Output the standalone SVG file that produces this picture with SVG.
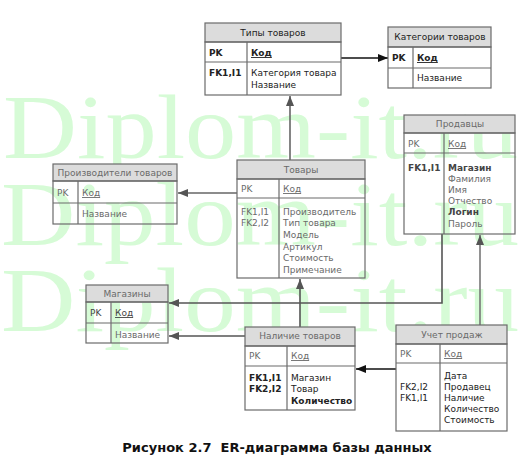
<svg xmlns="http://www.w3.org/2000/svg" width="525" height="460" viewBox="0 0 525 460">
<style>
.wm{font-family:"Liberation Serif","Times New Roman",serif;font-size:92px;fill:#d6fbd6}
.box{fill:none;stroke:#6b6b6b;stroke-width:1.2}
.hdr{fill:#dcdcdc;stroke:#6b6b6b;stroke-width:1.2}
.ln{stroke:#6b6b6b;stroke-width:1.2}
text{font-family:"DejaVu Sans",Verdana,sans-serif;font-size:9px}
.h{text-anchor:middle}
.u{text-decoration:underline}
.b{font-weight:bold}
.dk{fill:#222}
.gr{fill:#6a6a6a}
.cap{font-family:"DejaVu Sans",Verdana,sans-serif;font-size:13px;font-weight:bold;fill:#111;white-space:pre}
.c{fill:none;stroke-width:1.6}
</style>
<defs>
<marker id="ab" markerWidth="10" markerHeight="8" refX="10" refY="4" orient="auto" markerUnits="userSpaceOnUse"><path d="M0,0 L10,4 L0,8 Z" fill="#111"/></marker>
<marker id="ag" markerWidth="10" markerHeight="8" refX="10" refY="4" orient="auto" markerUnits="userSpaceOnUse"><path d="M0,0 L10,4 L0,8 Z" fill="#555"/></marker>
</defs>
<rect width="525" height="460" fill="#fff"/>
<g id="watermark">
<text class="wm" x="3" y="158" textLength="515" lengthAdjust="spacingAndGlyphs">Diplom-it.ru</text>
<text class="wm" x="1" y="245" textLength="518" lengthAdjust="spacingAndGlyphs">Diplom-it.ru</text>
<text class="wm" x="1" y="331" textLength="518" lengthAdjust="spacingAndGlyphs">Diplom-it.ru</text>
</g>
<g id="connectors">
<line class="c" x1="341" y1="58" x2="388" y2="58" stroke="#111" marker-end="url(#ab)"/>
<line class="c" x1="290" y1="160" x2="290" y2="96" stroke="#666" marker-end="url(#ag)"/>
<line class="c" x1="237" y1="193" x2="178" y2="193" stroke="#666" marker-end="url(#ag)"/>
<polyline class="c" points="442,234 442,303 169,303" stroke="#555" marker-end="url(#ag)"/>
<line class="c" x1="245" y1="336" x2="169" y2="336" stroke="#555" marker-end="url(#ag)"/>
<line class="c" x1="300" y1="327" x2="300" y2="279" stroke="#555" marker-end="url(#ag)"/>
<line class="c" x1="396" y1="369" x2="356" y2="369" stroke="#111" marker-end="url(#ab)"/>
<line class="c" x1="480" y1="325" x2="480" y2="235" stroke="#777" marker-end="url(#ag)"/>
</g>
<g id="tipy">
<rect class="hdr" x="205" y="23" width="136" height="19"/>
<rect class="box" x="205" y="42" width="136" height="53"/>
<line class="ln" x1="205" y1="62" x2="341" y2="62"/>
<line class="ln" x1="247" y1="42" x2="247" y2="95"/>
<text class="h dk" x="273" y="36">Типы товаров</text>
<text class="dk b" x="209" y="56">PK</text>
<text class="dk b u" x="251" y="56">Код</text>
<text class="dk b" x="209" y="76">FK1,I1</text>
<text class="dk" x="251" y="76">Категория товара</text>
<text class="dk" x="251" y="88">Название</text>
</g>
<g id="kategorii">
<rect class="hdr" x="388" y="27" width="103" height="20"/>
<rect class="box" x="388" y="47" width="103" height="41"/>
<line class="ln" x1="388" y1="68" x2="491" y2="68"/>
<line class="ln" x1="413" y1="47" x2="413" y2="88"/>
<text class="h dk" x="440" y="40">Категории товаров</text>
<text class="dk b" x="392" y="61">PK</text>
<text class="dk b u" x="417" y="61">Код</text>
<text class="dk" x="417" y="81">Название</text>
</g>
<g id="proizvoditeli">
<rect class="hdr" x="53" y="164" width="124" height="17"/>
<rect class="box" x="53" y="181" width="124" height="43"/>
<line class="ln" x1="53" y1="203" x2="177" y2="203"/>
<line class="ln" x1="78" y1="181" x2="78" y2="224"/>
<text class="h gr" x="115" y="176">Производители товаров</text>
<text class="gr" x="57" y="196">PK</text>
<text class="gr u" x="82" y="196">Код</text>
<text class="gr" x="82" y="217">Название</text>
</g>
<g id="tovary">
<rect class="hdr" x="237" y="160" width="128" height="19"/>
<rect class="box" x="237" y="179" width="128" height="99"/>
<line class="ln" x1="237" y1="198" x2="365" y2="198"/>
<line class="ln" x1="279" y1="179" x2="279" y2="278"/>
<text class="h gr" x="301" y="173">Товары</text>
<text class="gr" x="241" y="192">PK</text>
<text class="gr u" x="283" y="192">Код</text>
<text class="gr" x="241" y="215">FK1,I1</text>
<text class="gr" x="241" y="226">FK2,I2</text>
<text class="gr" x="283" y="215">Производитель</text>
<text class="gr" x="283" y="226">Тип товара</text>
<text class="gr" x="283" y="238">Модель</text>
<text class="gr" x="283" y="250">Артикул</text>
<text class="gr" x="283" y="261">Стоимость</text>
<text class="gr" x="283" y="273">Примечание</text>
</g>
<g id="prodavcy">
<rect class="hdr" x="404" y="115" width="111" height="18"/>
<rect class="box" x="404" y="133" width="111" height="101"/>
<line class="ln" x1="404" y1="153" x2="515" y2="153"/>
<line class="ln" x1="444" y1="133" x2="444" y2="234"/>
<text class="h gr" x="460" y="127">Продавцы</text>
<text class="gr" x="408" y="147">PK</text>
<text class="gr u" x="448" y="147">Код</text>
<text class="b" x="408" y="171" fill="#444">FK1,I1</text>
<text class="b" x="448" y="171" fill="#444">Магазин</text>
<text class="gr" x="448" y="182">Фамилия</text>
<text class="gr" x="448" y="193">Имя</text>
<text class="gr" x="448" y="204">Отчество</text>
<text class="b" x="448" y="215" fill="#444">Логин</text>
<text class="gr" x="448" y="227">Пароль</text>
</g>
<g id="magaziny">
<rect class="hdr" x="86" y="285" width="82" height="17"/>
<rect class="box" x="86" y="302" width="82" height="41"/>
<line class="ln" x1="86" y1="323" x2="168" y2="323"/>
<line class="ln" x1="111" y1="302" x2="111" y2="343"/>
<text class="h gr" x="127" y="297">Магазины</text>
<text x="90" y="316" fill="#444">PK</text>
<text class="u" x="115" y="316" fill="#444">Код</text>
<text class="gr" x="115" y="338">Название</text>
</g>
<g id="nalichie">
<rect class="hdr" x="245" y="327" width="110" height="19"/>
<rect class="box" x="245" y="346" width="110" height="64"/>
<line class="ln" x1="245" y1="366" x2="355" y2="366"/>
<line class="ln" x1="287" y1="346" x2="287" y2="410"/>
<text class="h gr" x="300" y="339">Наличие товаров</text>
<text class="gr" x="249" y="359">PK</text>
<text class="gr u" x="291" y="359">Код</text>
<text class="dk b" x="249" y="381">FK1,I1</text>
<text class="dk b" x="249" y="392">FK2,I2</text>
<text class="dk" x="291" y="381">Магазин</text>
<text class="dk" x="291" y="392">Товар</text>
<text class="dk b" x="291" y="404">Количество</text>
</g>
<g id="uchet">
<rect class="hdr" x="396" y="325" width="111" height="19"/>
<rect class="box" x="396" y="344" width="111" height="87"/>
<line class="ln" x1="396" y1="363" x2="507" y2="363"/>
<line class="ln" x1="440" y1="344" x2="440" y2="431"/>
<text class="h gr" x="452" y="338">Учет продаж</text>
<text class="gr" x="400" y="357">PK</text>
<text class="gr u" x="444" y="357">Код</text>
<text class="dk" x="444" y="379">Дата</text>
<text class="dk" x="400" y="390">FK2,I2</text>
<text class="dk" x="444" y="390">Продавец</text>
<text class="dk" x="400" y="401">FK1,I1</text>
<text class="dk" x="444" y="401">Наличие</text>
<text class="dk" x="444" y="412">Количество</text>
<text class="dk" x="444" y="423">Стоимость</text>
</g>
<text class="cap" x="277" y="452" text-anchor="middle">Рисунок 2.7  ER-диаграмма базы данных</text>
</svg>
